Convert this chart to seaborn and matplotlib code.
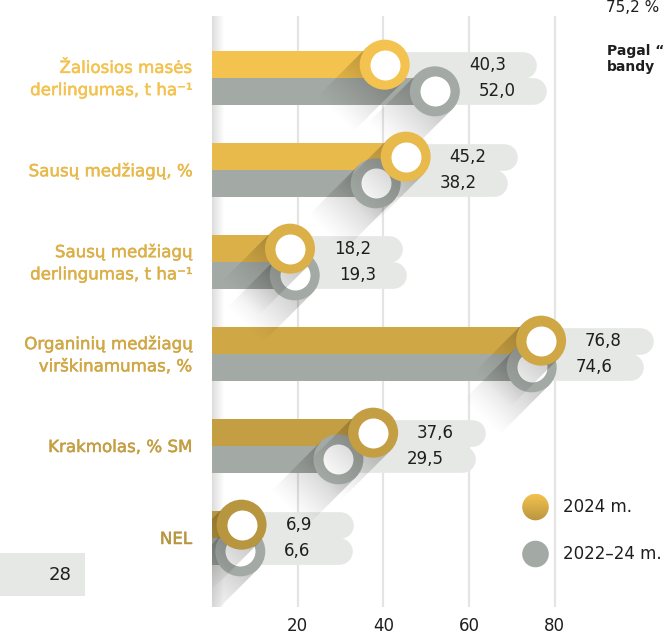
import numpy as np
import pandas as pd
import matplotlib
matplotlib.use("Agg")
import matplotlib.pyplot as plt
import seaborn as sns
from matplotlib.patches import Circle, Rectangle
from matplotlib.colors import to_rgb, LinearSegmentedColormap
import matplotlib.patheffects as pe

# ---------------- data ----------------
categories = [
    "Žaliosios masės\nderlingumas, t ha⁻¹",
    "Sausų medžiagų, %",
    "Sausų medžiagų\nderlingumas, t ha⁻¹",
    "Organinių medžiagų\nvirškinamumas, %",
    "Krakmolas, % SM",
    "NEL",
]
values_2024 = [40.3, 45.2, 18.2, 76.8, 37.6, 6.9]
values_2022_24 = [52.0, 38.2, 19.3, 74.6, 29.5, 6.6]
series = ["2024 m.", "2022–24 m."]
x_ticks = [20, 40, 60, 80]

# ---------------- style ----------------
W, H = 664, 636
GOLD_TOP, GOLD_BOT = "#F4C24E", "#B8953F"
GREY = "#A3A9A4"
PILL = "#E6E8E5"
GRID = "#E4E4E4"
TXT = "#1E1E1E"

sns.set_style("white")
plt.rcParams["font.family"] = ["DejaVu Sans"]

n = len(categories)
def lerp(c1, c2, t):
    a, b = np.array(to_rgb(c1)), np.array(to_rgb(c2))
    return tuple(a + (b - a) * t)
gold_rows = [lerp(GOLD_TOP, GOLD_BOT, i / (n - 1)) for i in range(n)]

fig = plt.figure(figsize=(W / 100, H / 100), dpi=100)

AX_L, AX_R, AX_T, AX_B = 212, 664, 16, 607
ax = fig.add_axes([AX_L / W, 1 - AX_B / H, (AX_R - AX_L) / W, (AX_B - AX_T) / H])
PPU = 4.285                       # pixels per data unit
XMAX = (AX_R - AX_L) / PPU
ROW_PX = 92.0
Y_TOP = (AX_T - 78) / ROW_PX
Y_BOT = (AX_B - 78) / ROW_PX

df = pd.DataFrame({
    "cat": categories * 2,
    "val": values_2024 + values_2022_24,
    "series": [series[0]] * n + [series[1]] * n,
})

sns.barplot(data=df, y="cat", x="val", hue="series", orient="h",
            width=0.58, gap=0, palette=[GOLD_TOP, GREY], saturation=1,
            errorbar=None, legend=False, linewidth=0, ax=ax, zorder=2)

for p in ax.patches:
    yc = p.get_y() + p.get_height() / 2
    row = int(round(yc))
    p.set_facecolor(gold_rows[row] if yc < row else GREY)
    p.set_edgecolor("none")

ax.set_xlim(0, XMAX)
ax.set_ylim(Y_BOT, Y_TOP)
ax.set_xticks(x_ticks)
ax.set_xticklabels([str(t) for t in x_ticks], fontsize=12, color=TXT)
ax.set_yticks([])
ax.tick_params(axis="x", length=0, pad=7.5)
ax.grid(axis="x", color=GRID, lw=1.6, zorder=0)
ax.grid(axis="y", visible=False)
ax.set_axisbelow(True)
for s in ax.spines.values():
    s.set_visible(False)
ax.set_xlabel("")
ax.set_ylabel("")

# left soft shading strip
ax.imshow(np.linspace(0, 1, 64)[None, :],
          cmap=LinearSegmentedColormap.from_list("sh", ["#DCDCDC", "#FFFFFF"]),
          extent=[0, 12 / PPU, Y_BOT, Y_TOP], aspect="auto", zorder=0.5,
          interpolation="bilinear")
ax.set_xlim(0, XMAX)
ax.set_ylim(Y_BOT, Y_TOP)

off = 0.58 / 4
R_OUT = 25  # px
R_IN = 15   # px
BAR_PX = 0.29 * ROW_PX
lw_pill = BAR_PX * 72 / 100

def px2u(px):
    return px / PPU

# pills and value labels
for i in range(n):
    for j, (vals, others) in enumerate([(values_2024, values_2022_24),
                                        (values_2022_24, values_2024)]):
        v, o = vals[i], others[i]
        y = i - off if j == 0 else i + off
        left_px = v * PPU + 44
        if o > v:
            left_px = max(left_px, o * PPU + R_OUT + 9)
        end_px = left_px + 68
        ax.plot([v, px2u(end_px - BAR_PX / 2)], [y, y], color=PILL,
                lw=lw_pill, solid_capstyle="round", zorder=1)
        ax.text(px2u(left_px), y, f"{v:.1f}".replace(".", ","),
                ha="left", va="center", fontsize=12, color=TXT, zorder=8)

# smooth long shadows as raster layers
gx = AX_L + np.arange(AX_R - AX_L) + 0.5
gy = AX_T + np.arange(AX_B - AX_T) + 0.5
GX, GY = np.meshgrid(gx, gy)

def shadow_layer(xs, ys, L=72.0, amax=0.25):
    keep = np.ones_like(GX)
    for x, y in zip(xs, ys):
        dx, dy = ax.transData.transform((x, y))
        cx, cy = dx, H - dy
        vx, vy = GX - cx, GY - cy
        t = (-vx + vy) / np.sqrt(2)
        s = (vx + vy) / np.sqrt(2)
        edge = np.clip(R_OUT + 0.5 - np.abs(s), 0, 1)
        fade = np.clip(1 - t / L, 0, 1) * (t >= 0)
        keep *= 1 - amax * fade ** 1.2 * edge
    img = np.zeros(GX.shape + (4,))
    img[..., 3] = 1 - keep
    return img

ys_grey = [i + off for i in range(n)]
ys_gold = [i - off for i in range(n)]

s_out = (2 * R_OUT * 72 / 100) ** 2
s_in = (2 * R_IN * 72 / 100) ** 2

ax.imshow(shadow_layer(values_2022_24, ys_grey), extent=[0, XMAX, Y_BOT, Y_TOP],
          origin="upper", aspect="auto", zorder=3, interpolation="nearest")
ax.scatter(values_2022_24, ys_grey, s=s_out, c=[GREY] * n, lw=0, zorder=4)
ax.scatter(values_2022_24, ys_grey, s=s_in, c="white", lw=0, zorder=4.1)
ax.imshow(shadow_layer(values_2024, ys_gold), extent=[0, XMAX, Y_BOT, Y_TOP],
          origin="upper", aspect="auto", zorder=5, interpolation="nearest")
ax.scatter(values_2024, ys_gold, s=s_out, c=gold_rows, lw=0, zorder=6)
ax.scatter(values_2024, ys_gold, s=s_in, c="white", lw=0, zorder=6.1)
ax.set_xlim(0, XMAX)
ax.set_ylim(Y_BOT, Y_TOP)

# ---------------- overlay (pixel coords) ----------------
ov = fig.add_axes([0, 0, 1, 1], zorder=10)
ov.set_xlim(0, W)
ov.set_ylim(H, 0)
ov.axis("off")

for i, cat in enumerate(categories):
    ov.text(192, 79 + ROW_PX * i, cat, ha="right", va="center",
            fontsize=12, color=gold_rows[i], linespacing=1.3,
            path_effects=[pe.withStroke(linewidth=0.35, foreground=gold_rows[i])])

# legend
leg_y = [507, 554]
im = ov.imshow(np.linspace(0, 1, 64)[:, None],
               cmap=LinearSegmentedColormap.from_list("lg", [GOLD_TOP, GOLD_BOT]),
               extent=[522, 549, 521, 494], aspect="auto")
im.set_clip_path(Circle((535.5, leg_y[0]), 13.3, transform=ov.transData))
ov.add_patch(Circle((535.5, leg_y[1]), 13.3, color=GREY, lw=0))
ov.text(563, leg_y[0], series[0], ha="left", va="center", fontsize=12, color=TXT)
ov.text(563, leg_y[1], series[1], ha="left", va="center", fontsize=12, color=TXT)

# page number box
ov.add_patch(Rectangle((0, 553), 85, 43, color=PILL, lw=0))
ov.text(71, 575, "28", ha="right", va="center", fontsize=13, color=TXT)

# partial page text on the right
ov.text(606, 12, "75,2 %", ha="left", va="baseline", fontsize=11, color=TXT)
ov.text(607, 55, "Pagal “", ha="left", va="baseline", fontsize=10,
        fontweight="bold", color=TXT)
ov.text(607, 71, "bandy", ha="left", va="baseline", fontsize=10,
        fontweight="bold", color=TXT)

ov.set_xlim(0, W)
ov.set_ylim(H, 0)

fig.savefig("out.png", dpi=100, facecolor="white")
